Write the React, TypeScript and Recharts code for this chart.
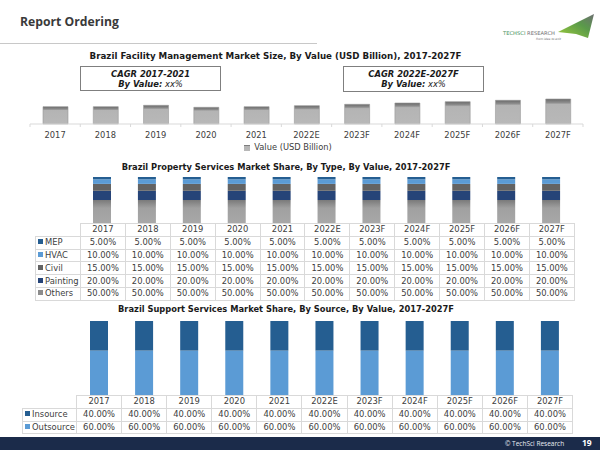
import React from "react";
import { BarChart, Bar, XAxis, YAxis, Legend } from "recharts";

// Shared categories
const YEARS = ["2017", "2018", "2019", "2020", "2021", "2022E", "2023F", "2024F", "2025F", "2026F", "2027F"];

// Chart 1: market size (USD Billion)
const MARKET_SIZE = [1.73, 1.73, 1.87, 1.67, 1.73, 1.83, 1.97, 2.1, 2.23, 2.37, 2.5];

// Chart 2: property services share by type (%)
const MEP = [5, 5, 5, 5, 5, 5, 5, 5, 5, 5, 5];
const HVAC = [10, 10, 10, 10, 10, 10, 10, 10, 10, 10, 10];
const CIVIL = [15, 15, 15, 15, 15, 15, 15, 15, 15, 15, 15];
const PAINTING = [20, 20, 20, 20, 20, 20, 20, 20, 20, 20, 20];
const OTHERS = [50, 50, 50, 50, 50, 50, 50, 50, 50, 50, 50];

// Chart 3: support services share by source (%)
const INSOURCE = [40, 40, 40, 40, 40, 40, 40, 40, 40, 40, 40];
const OUTSOURCE = [60, 60, 60, 60, 60, 60, 60, 60, 60, 60, 60];

const FONT = "'DejaVu Sans', Verdana, sans-serif";
const TEXT = "#404040";
const GRID = "#d9d9d9";

const C_MEP = "#255e91";
const C_HVAC = "#5b9bd5";
const C_CIVIL = "#636363";
const C_PAINT = "#264478";

const sizeData = YEARS.map((year, i) => ({ year, value: MARKET_SIZE[i] }));
const typeData = YEARS.map((year, i) => ({
  year,
  MEP: MEP[i],
  HVAC: HVAC[i],
  Civil: CIVIL[i],
  Painting: PAINTING[i],
  Others: OTHERS[i],
}));
const sourceData = YEARS.map((year, i) => ({ year, Insource: INSOURCE[i], Outsource: OUTSOURCE[i] }));

const typeRows = [
  { name: "MEP", color: C_MEP, values: MEP },
  { name: "HVAC", color: C_HVAC, values: HVAC },
  { name: "Civil", color: C_CIVIL, values: CIVIL },
  { name: "Painting", color: C_PAINT, values: PAINTING },
  { name: "Others", color: "#8c8c8c", values: OTHERS },
];
const sourceRows = [
  { name: "Insource", color: C_MEP, values: INSOURCE },
  { name: "Outsource", color: C_HVAC, values: OUTSOURCE },
];

const BAND1 = 553 / YEARS.length;

// year label plus Excel-style tick marks between categories
function YearTick(props: any) {
  const { x, y, payload, index } = props;
  const ay = y - 8;
  return (
    <g>
      <line x1={x - BAND1 / 2} x2={x - BAND1 / 2} y1={ay} y2={ay + 3} stroke={GRID} />
      {index === YEARS.length - 1 && (
        <line x1={x + BAND1 / 2} x2={x + BAND1 / 2} y1={ay} y2={ay + 3} stroke={GRID} />
      )}
      <text x={x} y={y} dy={6} textAnchor="middle" fontSize={8.3} fontFamily={FONT} fill={TEXT}>
        {payload.value}
      </text>
    </g>
  );
}

function ChartTitle({ text, cx, top, size = 8.3 }: { text: string; cx: number; top: number; size?: number }) {
  return (
    <div
      style={{
        position: "absolute",
        left: cx - 250,
        top,
        width: 500,
        textAlign: "center",
        fontFamily: FONT,
        fontWeight: 700,
        fontSize: size,
        color: "#1a1a1a",
        whiteSpace: "nowrap",
      }}
    >
      {text}
    </div>
  );
}

function CagrBox({ left, top, height, label }: { left: number; top: number; height: number; label: string }) {
  return (
    <div
      style={{
        position: "absolute",
        left,
        top,
        width: 141,
        height,
        boxSizing: "border-box",
        border: "1px solid #7f7f7f",
        fontFamily: FONT,
        fontSize: 8.4,
        fontStyle: "italic",
        color: "#1a1a1a",
        textAlign: "center",
        lineHeight: "10px",
        paddingTop: 2,
      }}
    >
      <div style={{ fontWeight: 700 }}>{label}</div>
      <div>
        <span style={{ fontWeight: 700 }}>By Value:</span> xx%
      </div>
    </div>
  );
}

function DataTable({
  left,
  top,
  labelWidth,
  colWidth,
  rows,
}: {
  left: number;
  top: number;
  labelWidth: number;
  colWidth: number;
  rows: { name: string; color: string; values: number[] }[];
}) {
  const cell: React.CSSProperties = {
    border: `1px solid ${GRID}`,
    padding: 0,
    height: 11.8,
    lineHeight: "11px",
    textAlign: "center",
    whiteSpace: "nowrap",
    overflow: "hidden",
  };
  return (
    <table
      style={{
        position: "absolute",
        left,
        top,
        borderCollapse: "collapse",
        tableLayout: "fixed",
        width: labelWidth + colWidth * YEARS.length,
        fontFamily: FONT,
        fontSize: 8.4,
        color: TEXT,
      }}
    >
      <colgroup>
        <col style={{ width: labelWidth }} />
        {YEARS.map((y) => (
          <col key={y} style={{ width: colWidth }} />
        ))}
      </colgroup>
      <tbody>
        <tr>
          <td style={{ ...cell, border: "none" }} />
          {YEARS.map((y) => (
            <td key={y} style={cell}>
              {y}
            </td>
          ))}
        </tr>
        {rows.map((r) => (
          <tr key={r.name}>
            <td style={{ ...cell, textAlign: "left", paddingLeft: 2 }}>
              <span
                style={{
                  display: "inline-block",
                  width: 5,
                  height: 5,
                  background: r.color,
                  marginRight: 2,
                  verticalAlign: "middle",
                  position: "relative",
                  top: -1,
                }}
              />
              {r.name}
            </td>
            {r.values.map((v, i) => (
              <td key={i} style={cell}>
                {v.toFixed(2)}%
              </td>
            ))}
          </tr>
        ))}
      </tbody>
    </table>
  );
}

function Logo() {
  return (
    <svg style={{ position: "absolute", left: 500, top: 8 }} width={100} height={40}>
      <defs>
        <linearGradient id="logoGrad" x1="0" y1="1" x2="1" y2="0">
          <stop offset="0%" stopColor="#9ccc3c" />
          <stop offset="60%" stopColor="#5a9a4a" />
          <stop offset="100%" stopColor="#6d6e71" />
        </linearGradient>
      </defs>
      <polygon points="58,24 94,6 88,30 76,26" fill="url(#logoGrad)" />
      <text x={3} y={27} fontSize={5.2} fontFamily={FONT} fill="#3f8f5a">
        TECHSCI
        <tspan fill="#6d6e71"> RESEARCH</tspan>
      </text>
      <text x={36} y={32} fontSize={3} fontFamily={FONT} fill="#6d6e71" fontStyle="italic">
        from idea to exit
      </text>
    </svg>
  );
}

export default function App() {
  return (
    <div
      style={{
        position: "relative",
        width: 600,
        height: 450,
        background: "#ffffff",
        overflow: "hidden",
        fontFamily: FONT,
      }}
    >
      <style>{`body{margin:0}`}</style>

      <div
        style={{
          position: "absolute",
          left: 20,
          top: 13,
          fontFamily: "'Open Sans', sans-serif",
          fontWeight: 700,
          fontSize: 12.2,
          color: "#3a3a3a",
        }}
      >
        Report Ordering
      </div>
      <div style={{ position: "absolute", left: 0, top: 43, width: 317, height: 1, background: "#c8c8c8" }} />
      <Logo />

      {/* Chart 1 */}
      <ChartTitle
        text="Brazil Facility Management Market Size, By Value (USD Billion), 2017-2027F"
        cx={275.5}
        top={51}
        size={8.7}
      />
      <CagrBox left={80} top={66} height={25} label="CAGR 2017-2021" />
      <CagrBox left={343} top={66} height={26} label="CAGR 2022E-2027F" />
      <div style={{ position: "absolute", left: 0, top: 86 }}>
        <BarChart
          width={600}
          height={72}
          data={sizeData}
          margin={{ top: 4, right: 17, bottom: 0, left: 30 }}
          barSize={25}
        >
          <defs>
            <linearGradient id="fmGrad" x1="0" y1="0" x2="0" y2="1">
              <stop offset="0%" stopColor="#6a6a6a" />
              <stop offset="14%" stopColor="#8c8c8c" />
              <stop offset="22%" stopColor="#b4b4b4" />
              <stop offset="100%" stopColor="#b8b8b8" />
            </linearGradient>
          </defs>
          <XAxis
            dataKey="year"
            axisLine={{ stroke: GRID }}
            tickLine={false}
            interval={0}
            height={18}
            tick={<YearTick />}
          />
          <YAxis hide domain={[0, 3.4]} />
          <Legend
            verticalAlign="bottom"
            height={16}
            iconType="square"
            iconSize={6}
            wrapperStyle={{ left: 0, width: 586, fontFamily: FONT, fontSize: 8.3 }}
            formatter={(v) => <span style={{ color: TEXT }}>{v}</span>}
          />
          <Bar
            dataKey="value"
            name="Value (USD Billion)"
            fill="url(#fmGrad)"
            stroke="#999999"
            strokeWidth={0.6}
            legendType="square"
            isAnimationActive={false}
          />
        </BarChart>
      </div>

      {/* Chart 2 */}
      <ChartTitle text="Brazil Property Services Market Share, By Type, By Value, 2017-2027F" cx={286} top={162} />
      <div style={{ position: "absolute", left: 80, top: 177 }}>
        <BarChart width={494} height={46} data={typeData} margin={{ top: 0, right: 0, bottom: 0, left: 0 }} barSize={18}>
          <defs>
            <linearGradient id="othGrad" x1="0" y1="0" x2="0" y2="1">
              <stop offset="0%" stopColor="#7a7a7a" />
              <stop offset="35%" stopColor="#a0a0a0" />
              <stop offset="100%" stopColor="#a8a8a8" />
            </linearGradient>
          </defs>
          <XAxis dataKey="year" hide />
          <YAxis hide domain={[0, 100]} />
          <Bar dataKey="Others" stackId="t" fill="url(#othGrad)" isAnimationActive={false} />
          <Bar dataKey="Painting" stackId="t" fill={C_PAINT} isAnimationActive={false} />
          <Bar dataKey="Civil" stackId="t" fill={C_CIVIL} isAnimationActive={false} />
          <Bar dataKey="HVAC" stackId="t" fill={C_HVAC} isAnimationActive={false} />
          <Bar dataKey="MEP" stackId="t" fill={C_MEP} isAnimationActive={false} />
        </BarChart>
      </div>
      <DataTable left={35} top={223} labelWidth={45} colWidth={44.9} rows={typeRows} />

      {/* Chart 3 */}
      <ChartTitle text="Brazil Support Services Market Share, By Source, By Value, 2017-2027F" cx={286} top={304} />
      <div style={{ position: "absolute", left: 76, top: 321 }}>
        <BarChart width={496} height={74} data={sourceData} margin={{ top: 0, right: 0, bottom: 0, left: 0 }} barSize={18}>
          <XAxis dataKey="year" hide />
          <YAxis hide domain={[0, 100]} />
          <Bar dataKey="Outsource" stackId="s" fill={C_HVAC} isAnimationActive={false} />
          <Bar dataKey="Insource" stackId="s" fill={C_MEP} isAnimationActive={false} />
        </BarChart>
      </div>
      <DataTable left={22} top={395} labelWidth={54} colWidth={45.1} rows={sourceRows} />

      {/* Footer */}
      <div style={{ position: "absolute", left: 0, top: 437, width: 600, height: 13, background: "#1b2b4a" }} />
      <div
        style={{
          position: "absolute",
          left: 505,
          top: 439,
          fontFamily: "'Open Sans', sans-serif",
          fontSize: 6.5,
          color: "#e8ecf2",
          whiteSpace: "nowrap",
        }}
      >
        © TechSci Research
      </div>
      <div
        style={{
          position: "absolute",
          left: 582,
          top: 437,
          fontFamily: "'Open Sans', sans-serif",
          fontWeight: 700,
          fontSize: 8.5,
          color: "#ffffff",
        }}
      >
        19
      </div>
    </div>
  );
}
